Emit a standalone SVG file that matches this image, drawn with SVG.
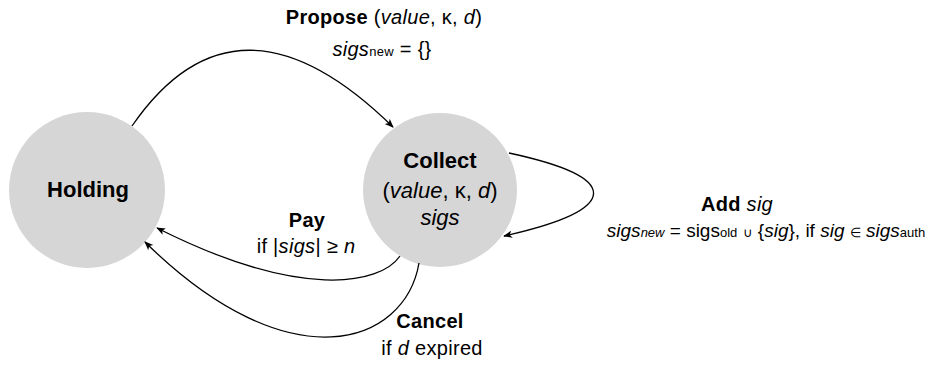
<svg xmlns="http://www.w3.org/2000/svg" width="930" height="369" viewBox="0 0 930 369">
<defs>
<style>
text{font-family:"Liberation Sans",Arial,sans-serif;fill:#000;text-anchor:middle}
.node{fill:#d6d6d6;stroke:none}
.nt{font-size:22px}
.lb{font-size:20px;letter-spacing:0.3px}
.lb2{font-size:19px}
.b{font-weight:bold}
.i{font-style:italic}
.s{font-size:13px}
.edge{fill:none;stroke:#000;stroke-width:1.3}
</style>
<marker id="arr" viewBox="0 0 10 10" refX="9" refY="5" markerWidth="9" markerHeight="9" markerUnits="userSpaceOnUse" orient="auto">
<path d="M0,1 L10,5 L0,9 L2.5,5 Z" fill="#000"/>
</marker>
</defs>
<rect width="930" height="369" fill="#fff"/>
<g id="holding">
<circle class="node" cx="87" cy="190" r="78"/>
<text class="nt b" x="88" y="197">Holding</text>
</g>
<g id="collect">
<circle class="node" cx="440" cy="190" r="77"/>
<text class="nt b" x="440" y="168">Collect</text>
<text class="nt" x="440" y="198">(<tspan class="i">value</tspan>, κ, <tspan class="i">d</tspan>)</text>
<text class="nt i" x="440" y="225">sigs</text>
</g>
<g id="connectors">
<path class="edge" marker-end="url(#arr)" d="M132,126 Q237,-26 393,127"/>
<path class="edge" marker-end="url(#arr)" d="M509,153 C625,178 620,210 504,236"/>
<path class="edge" marker-end="url(#arr)" d="M400,256 C380,285 300,300 157,228"/>
<path class="edge" marker-end="url(#arr)" d="M419,263 C405,345 290,385 145,242"/>
</g>
<g id="labels">
<text class="lb" x="384" y="24"><tspan class="b">Propose</tspan> (<tspan class="i">value</tspan>, κ, <tspan class="i">d</tspan>)</text>
<text class="lb" x="382" y="56"><tspan class="i">sigs</tspan><tspan class="s">new</tspan> = {}</text>
<text class="lb" x="737" y="211"><tspan class="b">Add</tspan> <tspan class="i">sig</tspan></text>
<text class="lb2" x="766" y="237"><tspan class="i">sigs</tspan><tspan class="s i">new</tspan> = sigs<tspan class="s">old</tspan> <tspan class="s">∪</tspan> {<tspan class="i">sig</tspan>}, if <tspan class="i">sig</tspan> <tspan class="s">∈</tspan> <tspan class="i">sigs</tspan><tspan class="s">auth</tspan></text>
<text class="lb b" x="307" y="227">Pay</text>
<text class="lb" x="306" y="253">if |<tspan class="i">sigs</tspan>| ≥ <tspan class="i">n</tspan></text>
<text class="lb b" x="430" y="328">Cancel</text>
<text class="lb" x="432" y="355">if <tspan class="i">d</tspan> expired</text>
</g>
</svg>
